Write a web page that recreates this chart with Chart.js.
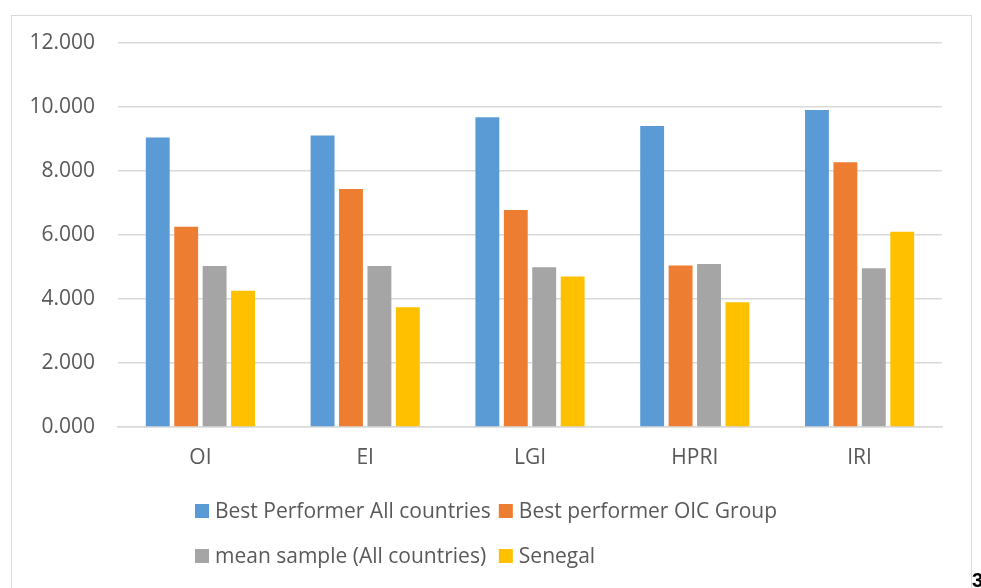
<!DOCTYPE html>
<html>
<head>
<meta charset="utf-8">
<script src="https://cdn.jsdelivr.net/npm/chart.js@4"></script>
<style>
  html, body { margin: 0; padding: 0; background: #fff; overflow: hidden; }
  #wrap { position: relative; width: 981px; height: 588px; overflow: hidden; }
  #frame { position: absolute; left: 11px; top: 15px; width: 959px; height: 620px;
           border: 1px solid #d9d9d9; pointer-events: none; }
  #pageno { position: absolute; left: 972px; top: 569px; font: bold 20px "Liberation Sans", sans-serif; color: #000; }
  canvas { position: absolute; left: 0; top: 0; }
</style>
</head>
<body>
<div id="wrap">
  <canvas id="chart" width="981" height="588"></canvas>
  <div id="frame"></div>
  <div id="pageno">3</div>
</div>
<script>
const categories = ['OI', 'EI', 'LGI', 'HPRI', 'IRI'];
const bestAll = [9.05, 9.11, 9.68, 9.41, 9.91];
const bestOIC = [6.26, 7.44, 6.78, 5.05, 8.27];
const meanSample = [5.03, 5.03, 4.99, 5.09, 4.96];
const senegal = [4.26, 3.74, 4.70, 3.90, 6.10];

const seriesNames = ['Best Performer All countries', 'Best performer OIC Group',
                     'mean sample (All countries)', 'Senegal'];
const seriesColors = ['#5B9BD5', '#ED7D31', '#A5A5A5', '#FFC000'];

const FONT = '"Open Sans", sans-serif';
const TEXT = '#595959';

// Excel style legend: two columns, two rows
const gridLegend = {
    id: 'gridLegend',
    afterDraw(chart) {
        const ctx = chart.ctx;
        const sets = chart.data.datasets;
        ctx.save();
        ctx.font = '21px ' + FONT;
        ctx.textBaseline = 'middle';
        const box = 14, gap = 6, colGap = 8;
        const colW = [0, 0];
        sets.forEach((ds, i) => {
            const w = box + gap + ctx.measureText(ds.label).width;
            colW[i % 2] = Math.max(colW[i % 2], w);
        });
        const total = colW[0] + colGap + colW[1];
        const startX = Math.round(486 - total / 2);
        const rowY = [511, 556];
        sets.forEach((ds, i) => {
            const col = i % 2, row = Math.floor(i / 2);
            const x = startX + (col ? colW[0] + colGap : 0);
            const y = rowY[row];
            ctx.fillStyle = ds.backgroundColor;
            ctx.fillRect(x, y - box / 2, box, box);
            ctx.fillStyle = TEXT;
            ctx.fillText(ds.label, x + box + gap, y + 1);
        });
        ctx.restore();
    }
};

const values = [bestAll, bestOIC, meanSample, senegal];

new Chart(document.getElementById('chart'), {
    type: 'bar',
    data: {
        labels: categories,
        datasets: values.map((v, i) => ({
            label: seriesNames[i],
            data: v,
            backgroundColor: seriesColors[i],
            borderWidth: 0,
            barPercentage: 0.84,
            categoryPercentage: 0.69
        }))
    },
    options: {
        responsive: false,
        animation: false,
        layout: { padding: { top: 43, right: 39, left: 0, bottom: 0 } },
        plugins: {
            legend: { display: false },
            tooltip: { enabled: false }
        },
        scales: {
            x: {
                grid: { display: false, drawTicks: false },
                border: { display: true, color: '#d9d9d9', width: 1.5 },
                ticks: { color: TEXT, font: { family: FONT, size: 21 }, padding: 18 },
                afterFit(s) { s.height = 161; }
            },
            y: {
                min: 0,
                max: 12,
                grid: { color: '#d9d9d9', lineWidth: 1.5, drawTicks: false },
                border: { display: false },
                ticks: {
                    stepSize: 2,
                    color: TEXT,
                    font: { family: FONT, size: 21 },
                    padding: 23,
                    callback: v => v.toFixed(3)
                },
                afterFit(s) { s.width = 118; }
            }
        }
    },
    plugins: [gridLegend]
});
</script>
</body>
</html>
